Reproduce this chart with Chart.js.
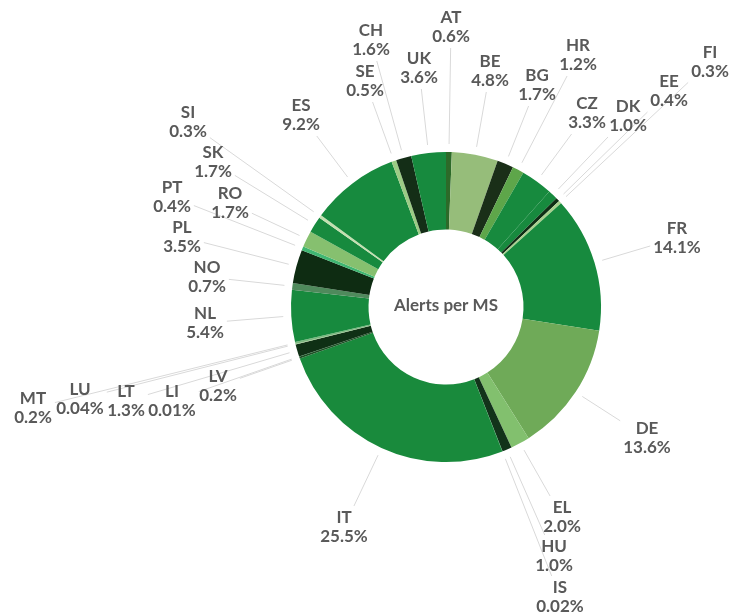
<!DOCTYPE html>
<html>
<head>
<meta charset="utf-8">
<script src="https://cdn.jsdelivr.net/npm/chart.js@4/dist/chart.umd.min.js"></script>
<style>
  html, body { margin: 0; padding: 0; background: #fff; }
  canvas { display: block; }
</style>
</head>
<body>
<canvas id="chart" width="731" height="613"></canvas>
<script>
// Member states, clockwise from 12 o'clock
const countries = ["AT", "BE", "BG", "HR", "CZ", "DK", "EE", "FI", "FR", "DE",
  "EL", "HU", "IS", "IT", "LV", "LI", "LT", "LU", "MT", "NL",
  "NO", "PL", "PT", "RO", "SK", "SI", "ES", "SE", "CH", "UK"];

// Share of alerts (%)
const shares = [0.6, 4.8, 1.7, 1.2, 3.3, 1.0, 0.4, 0.3, 14.1, 13.6,
  2.0, 1.0, 0.02, 25.5, 0.2, 0.01, 1.3, 0.04, 0.2, 5.4,
  0.7, 3.5, 0.4, 1.7, 1.7, 0.3, 9.2, 0.5, 1.6, 3.6];

// Slice colours
const sliceColors = ["#2d6a29", "#96bd7a", "#1a2f18", "#5ea64a", "#178a3e", "#178a3e", "#0f2e15", "#a8d08e", "#178a3e", "#6faa58",
  "#82c06e", "#12331a", "#178a3e", "#198a3c", "#1d4f24", "#178a3e", "#0f3015", "#a8d08e", "#7ab87e", "#178a3e",
  "#4f8a5c", "#0e2c12", "#3fb672", "#86c06f", "#178a3e", "#c4e0b0", "#178a3e", "#9ccc85", "#142e17", "#178a3e"];

// Where each data label sits (centre of the two-line block)
const labelAnchors = [[451, 27], [490, 71], [537, 85], [578, 55], [587, 113], [628, 116], [669, 91], [710, 62], [677, 238], [647, 438],
  [562, 517], [554, 556], [560, 597], [344, 527], [218, 386], [172, 401], [126, 401], [80, 399], [33, 408], [205, 323],
  [207, 277], [182, 237], [172, 197], [230, 203], [213, 162], [188, 122], [301, 115], [365, 81], [371, 40], [419, 68]];

const centerTitle = "Alerts per MS";

const fmt = (v) => (v < 0.1 ? v.toFixed(2) : v.toFixed(1)) + "%";

const labelFont = "bold 17px Lato";
const textColor = "#595959";

// Draws leader lines, labels and the centre title
const labelPlugin = {
  id: "labels",
  afterDraw(chart) {
    const ctx = chart.ctx;
    const meta = chart.getDatasetMeta(0);
    ctx.save();
    ctx.font = labelFont;
    ctx.textAlign = "center";
    ctx.textBaseline = "middle";

    meta.data.forEach((arc, i) => {
      const p = arc.getProps(["x", "y", "startAngle", "endAngle", "outerRadius"], true);
      const mid = (p.startAngle + p.endAngle) / 2;
      const sx = p.x + Math.cos(mid) * (p.outerRadius + 8);
      const sy = p.y + Math.sin(mid) * (p.outerRadius + 8);
      const [lx, ly] = labelAnchors[i];
      const w = Math.max(ctx.measureText(countries[i]).width, ctx.measureText(fmt(shares[i])).width) / 2 + 3;
      const h = 21;
      const dx = sx - lx, dy = sy - ly;
      const t = Math.min(dx !== 0 ? w / Math.abs(dx) : Infinity, dy !== 0 ? h / Math.abs(dy) : Infinity);
      if (t < 1) {
        ctx.beginPath();
        ctx.strokeStyle = "#d9d9d9";
        ctx.lineWidth = 1;
        ctx.moveTo(sx, sy);
        ctx.lineTo(lx + dx * t, ly + dy * t);
        ctx.stroke();
      }
    });

    ctx.fillStyle = textColor;
    meta.data.forEach((arc, i) => {
      const [lx, ly] = labelAnchors[i];
      ctx.fillText(countries[i], lx, ly - 9.5);
      ctx.fillText(fmt(shares[i]), lx, ly + 9.5);
    });

    const c = meta.data[0].getProps(["x", "y"], true);
    ctx.fillText(centerTitle, c.x, c.y - 1);
    ctx.restore();
  }
};

const ctx = document.getElementById("chart").getContext("2d");
new Chart(ctx, {
  type: "doughnut",
  data: {
    labels: countries,
    datasets: [
      {
        data: shares,
        backgroundColor: sliceColors,
        borderWidth: 0,
      },
    ],
  },
  options: {
    responsive: false,
    animation: false,
    cutout: "50%",
    layout: {
      padding: { left: 291, right: 130, top: 152, bottom: 151 },
    },
    plugins: {
      legend: { display: false },
      tooltip: { enabled: false },
    },
  },
  plugins: [labelPlugin],
});
</script>
</body>
</html>
